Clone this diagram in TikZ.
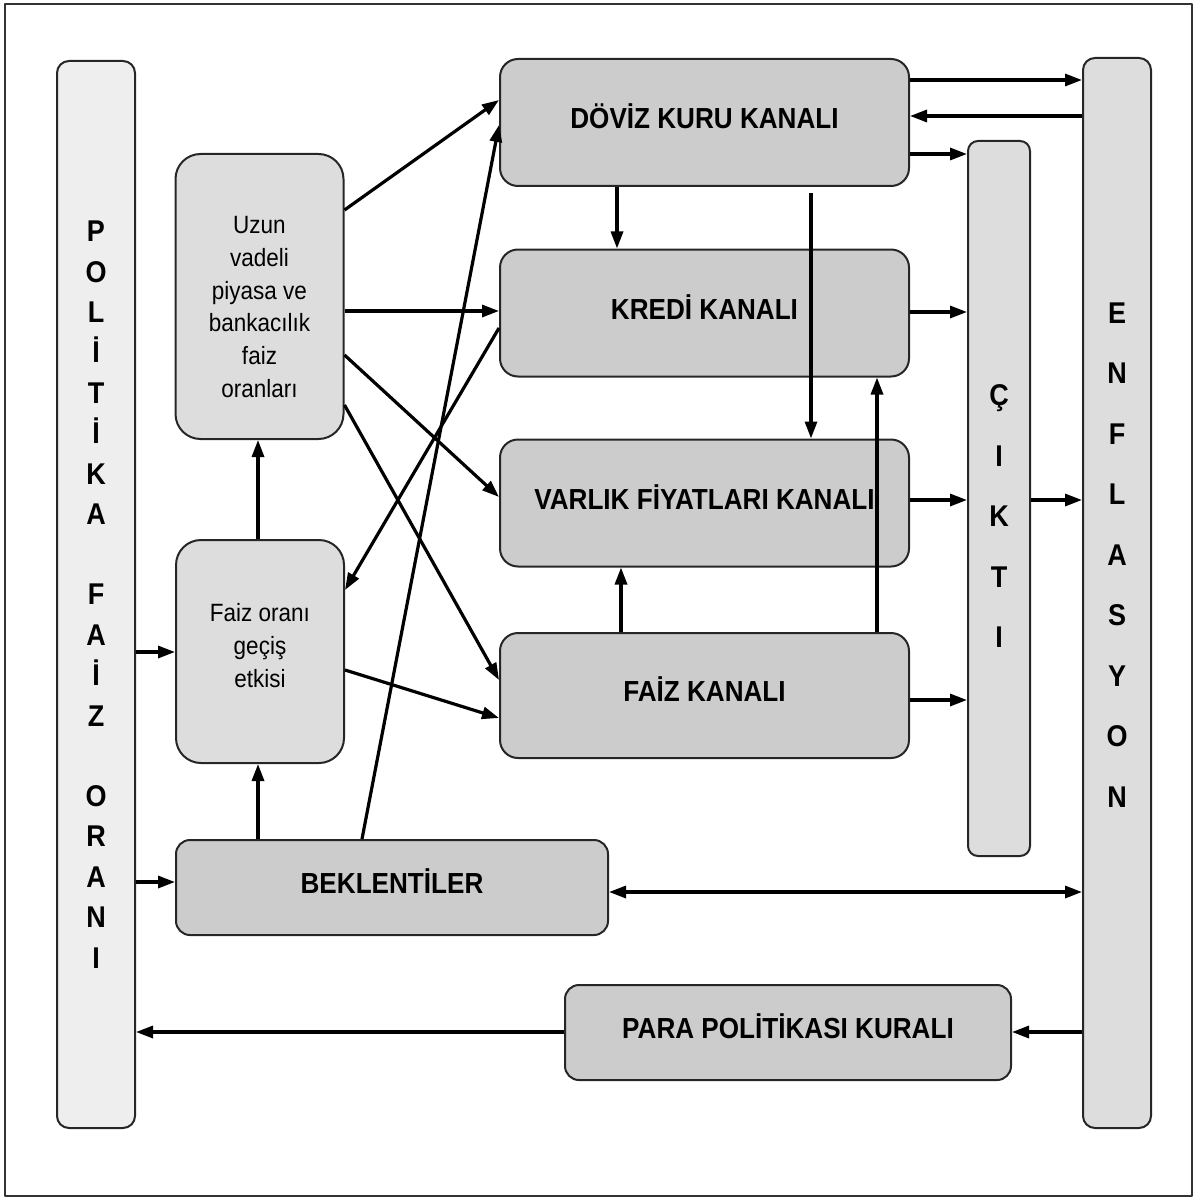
\documentclass[tikz,border=0pt]{standalone}
\usepackage{fontspec}
\setsansfont{Liberation Sans}[FakeStretch=0.9]
\renewcommand{\familydefault}{\sfdefault}
\usetikzlibrary{arrows.meta}
\definecolor{palegray}{HTML}{EEEEEE}
\definecolor{midgray}{HTML}{DDDDDD}
\definecolor{chgray}{HTML}{CCCCCC}
\begin{document}
\begin{tikzpicture}[x=1pt,y=-1pt,line join=round,
    >={Triangle[length=17pt,width=12pt]},
    box/.style={draw=black!85,line width=2pt,inner sep=0pt},
    chan/.style={box,fill=chgray,rounded corners=18pt,minimum width=409pt,minimum height=127pt,
      text height=21pt,text depth=9pt,font=\bfseries\fontsize{29}{34}\selectfont},
    soft/.style={box,fill=midgray,rounded corners=25pt,minimum width=168pt,align=center,
      font=\fontsize{25}{32.7}\selectfont},
    bar/.style={box,rounded corners=12pt,align=center,font=\bfseries\fontsize{30}{40.4}\selectfont},
    letters/.style={align=center,inner sep=0pt,font=\bfseries\fontsize{30}{60.5}\selectfont},
    arr/.style={line width=3.2pt,->}]
  \useasboundingbox (0,0) rectangle (1196,1198);
  \draw[line width=2pt,black!80] (5,4) rectangle (1192,1196);
  % left and right bars
  \node[bar,fill=palegray,minimum width=78pt,minimum height=1067pt] (pol) at (96,594.5)
    {P\\O\\L\\İ\\T\\İ\\K\\A\\[40pt]F\\A\\İ\\Z\\[40pt]O\\R\\A\\N\\I};
  \node[bar,fill=midgray,rounded corners=10pt,minimum width=62pt,minimum height=715pt,
    label={[name=ciktxt,letters,yshift=-18pt]center:Ç\\I\\K\\T\\I}] (cik) at (999,498.5) {};
  \node[bar,fill=midgray,minimum width=68pt,minimum height=1070pt,
    label={[name=enftxt,letters,yshift=38pt]center:E\\N\\F\\L\\A\\S\\Y\\O\\N}] (enf) at (1117,593) {};
  % middle boxes
  \node[soft,minimum height=285pt] (uzun) at (259.5,296.5)
    {\rule{0pt}{38pt}Uzun\\vadeli\\piyasa ve\\bankacılık\\faiz\\oranları};
  \node[soft,minimum height=223pt] (gec) at (260,651.5) {Faiz oranı\\geçiş\\etkisi\rule[-12pt]{0pt}{12pt}};
  \node[chan] (dov) at (704.5,122.5) {DÖVİZ KURU KANALI};
  \node[chan] (kre) at (704.5,313) {KREDİ KANALI};
  \node[chan] (var) at (704.5,503) {VARLIK FİYATLARI KANALI};
  \node[chan,minimum height=125pt] (fai) at (704.5,695.5) {FAİZ KANALI};
  \node[chan,rounded corners=14pt,minimum width=432pt,minimum height=95pt] (bek) at (392,887.5) {BEKLENTİLER};
  \node[chan,rounded corners=14pt,minimum width=446pt,minimum height=95pt] (para) at (788,1032.5) {PARA POLİTİKASI KURALI};
  % arrows
  \draw[arr] (dov.east |- 0,80) -- (enf.west |- 0,80);
  \draw[arr] (enf.west |- 0,116) -- (dov.east |- 0,116);
  \draw[arr] (dov.east |- 0,154) -- (cik.west |- 0,154);
  \draw[arr] (dov.south -| 617,0) -- (kre.north -| 617,0);
  \draw[arr,shorten <=6pt] (dov.south -| 811,0) -- (var.north -| 811,0);
  \draw[arr] (fai.north -| 877,0) -- (kre.south -| 877,0);
  \draw[arr] (fai.north -| 621,0) -- (var.south -| 621,0);
  \foreach \n/\y in {kre/312,var/500,fai/700}
    \draw[arr] (\n.east |- 0,\y) -- (cik.west |- 0,\y);
  \draw[arr] (cik.east |- 0,500) -- (enf.west |- 0,500);
  \draw[arr,<->] (bek.east |- 0,892) -- (enf.west |- 0,892);
  \draw[arr] (enf.west |- 0,1032) -- (para.east |- 0,1032);
  \draw[arr] (para.west |- 0,1032) -- (pol.east |- 0,1032);
  \draw[arr] (pol.east |- 0,652) -- (gec.west |- 0,652);
  \draw[arr] (pol.east |- 0,882) -- (bek.west |- 0,882);
  \draw[arr] (bek.north -| 258,0) -- (gec.south -| 258,0);
  \draw[arr] (gec.north -| 258,0) -- (uzun.south -| 258,0);
  \draw[arr] (uzun.east |- 0,210) -- (dov.west |- 0,100);
  \draw[arr] (uzun.east |- 0,311) -- (kre.west |- 0,311);
  \draw[arr] (uzun.east |- 0,355) -- (var.west |- 0,497);
  \draw[arr] (uzun.east |- 0,405) -- (fai.west |- 0,680);
  \draw[arr] (kre.west |- 0,328) -- (gec.east |- 0,590);
  \draw[arr] (bek.north -| 362,0) -- (dov.west |- 0,125);
  \draw[arr] (gec.east |- 0,670) -- (fai.west |- 0,718);
\end{tikzpicture}
\end{document}
